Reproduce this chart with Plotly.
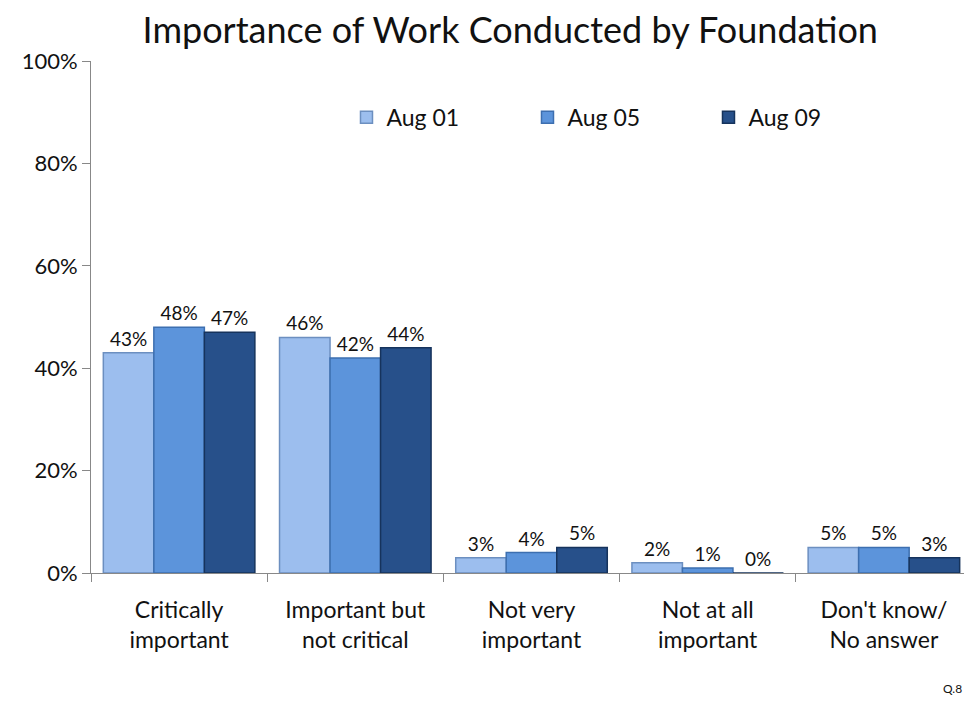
import plotly.graph_objects as go

categories = ["Critically<br>important", "Important but<br>not critical", "Not very<br>important",
              "Not at all<br>important", "Don't know/<br>No answer"]
series_names = ["Aug 01", "Aug 05", "Aug 09"]
aug01 = [43, 46, 3, 2, 5]
aug05 = [48, 42, 4, 1, 5]
aug09 = [47, 44, 5, 0, 3]
y_ticks = [0, 20, 40, 60, 80, 100]

FILL = ["#9CBEEE", "#5C94DB", "#27508A"]
EDGE = ["#6C8FC0", "#3D6FB0", "#16335C"]
FONT = "Lato, Open Sans, sans-serif"

fig = go.Figure()
for i, (name, vals) in enumerate(zip(series_names, [aug01, aug05, aug09])):
    fig.add_trace(go.Bar(
        x=categories, y=vals, name=name,
        marker=dict(color=FILL[i], line=dict(color=EDGE[i], width=1.5)),
        text=[f"{v}%" for v in vals], textposition="outside", cliponaxis=False,
        textfont=dict(size=19, color="#111"),
    ))

# page has an 8px body margin, so the figure is sized 964x696
fig.update_layout(
    width=964, height=696,
    barmode="group", bargap=0.14, bargroupgap=0,
    plot_bgcolor="white", paper_bgcolor="white",
    font=dict(family=FONT, color="#111"),
    title=dict(text="Importance of Work Conducted by Foundation", x=0.521, xanchor="center",
               y=0.968, yanchor="middle", font=dict(size=36, color="#111")),
    margin=dict(t=53, b=131, l=83, r=0),
    legend=dict(orientation="h", x=0.29, y=0.89, xanchor="left", yanchor="middle",
                font=dict(size=23), entrywidth=136, bgcolor="rgba(0,0,0,0)"),
    xaxis=dict(showline=True, linecolor="#888", linewidth=1, ticks="outside", tickson="boundaries",
               ticklen=8, tickcolor="#888", tickfont=dict(size=23), ticklabelstandoff=16,
               showgrid=False),
    yaxis=dict(range=[0, 100], tickvals=y_ticks, ticktext=[f"{t}%" for t in y_ticks],
               showline=True, linecolor="#888", linewidth=1, ticks="outside", ticklen=8,
               tickcolor="#888", tickfont=dict(size=22), showgrid=False, zeroline=False),
)
fig.add_annotation(text="Q.8", xref="paper", yref="paper", x=1.0, y=-0.225, xanchor="right",
                   yanchor="middle", showarrow=False, font=dict(size=12, color="#111"), xshift=-8)

fig.write_html("out.html")
